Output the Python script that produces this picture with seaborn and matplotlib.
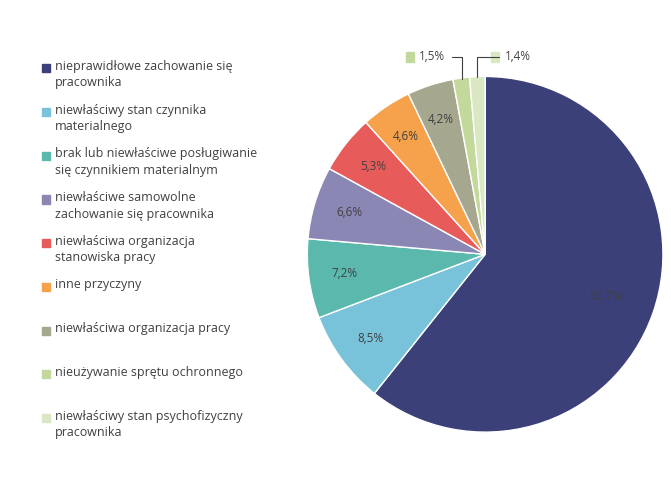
import matplotlib
matplotlib.use("Agg")
import matplotlib.pyplot as plt
import numpy as np
import seaborn as sns
from matplotlib.patches import Rectangle

sns.set_theme(style="white", font="Open Sans")

categories = [
    "nieprawidłowe zachowanie się\npracownika",
    "niewłaściwy stan czynnika\nmaterialnego",
    "brak lub niewłaściwe posługiwanie\nsię czynnikiem materialnym",
    "niewłaściwe samowolne\nzachowanie się pracownika",
    "niewłaściwa organizacja\nstanowiska pracy",
    "inne przyczyny",
    "niewłaściwa organizacja pracy",
    "nieużywanie sprętu ochronnego",
    "niewłaściwy stan psychofizyczny\npracownika",
]
values = [60.7, 8.5, 7.2, 6.6, 5.3, 4.6, 4.2, 1.5, 1.4]
colors = ["#3b4079", "#78c3d9", "#5bb8ac", "#8a87b5", "#e75c5b",
          "#f6a14b", "#a5a78e", "#c2d99b", "#d9e7c2"]

fig = plt.figure(figsize=(6.71, 4.83), dpi=100)
ax = fig.add_axes([0.458, 0.105, 0.53, 0.737])

def fmt(v):
    return ("%.1f%%" % v).replace(".", ",")

wedges, texts = ax.pie(values, colors=colors, startangle=90, counterclock=False,
                       wedgeprops=dict(edgecolor="white", linewidth=1))
for i, (w, v) in enumerate(zip(wedges, values)):
    ang = np.deg2rad((w.theta1 + w.theta2) / 2)
    if v >= 3:
        r = 0.72 if v > 50 else 0.8
        ax.text(r * np.cos(ang), r * np.sin(ang), fmt(v), ha="center", va="center",
                fontsize=8.5, color="#404040")
    else:
        x0, y0 = np.cos(ang), np.sin(ang)
        tx = -0.37 if i == 7 else 0.11
        ax.annotate(fmt(v), xy=(x0 * 0.98, y0 * 0.98), xytext=(tx, 1.11),
                    ha="left", va="center", fontsize=8.5, color="#404040",
                    arrowprops=dict(arrowstyle="-", color="#404040", lw=0.8,
                                    connectionstyle="angle,angleA=0,angleB=90"))
        ax.add_patch(Rectangle((tx - 0.075, 1.08), 0.045, 0.06, color=colors[i],
                               clip_on=False))
ax.set_xlim(-1, 1)
ax.set_ylim(-1, 1)
ax.set_aspect("equal")

# legend
for i, (c, lab) in enumerate(zip(categories, colors)):
    y = 0.868 - i * 0.0905
    fig.patches.append(Rectangle((0.062, y - 0.018), 0.012, 0.017, color=lab,
                                 transform=fig.transFigure, figure=fig))
    fig.text(0.082, y + 0.008, c, ha="left", va="top", fontsize=9,
             color="#404040", linespacing=1.35)

fig.savefig("out.png", dpi=100)
